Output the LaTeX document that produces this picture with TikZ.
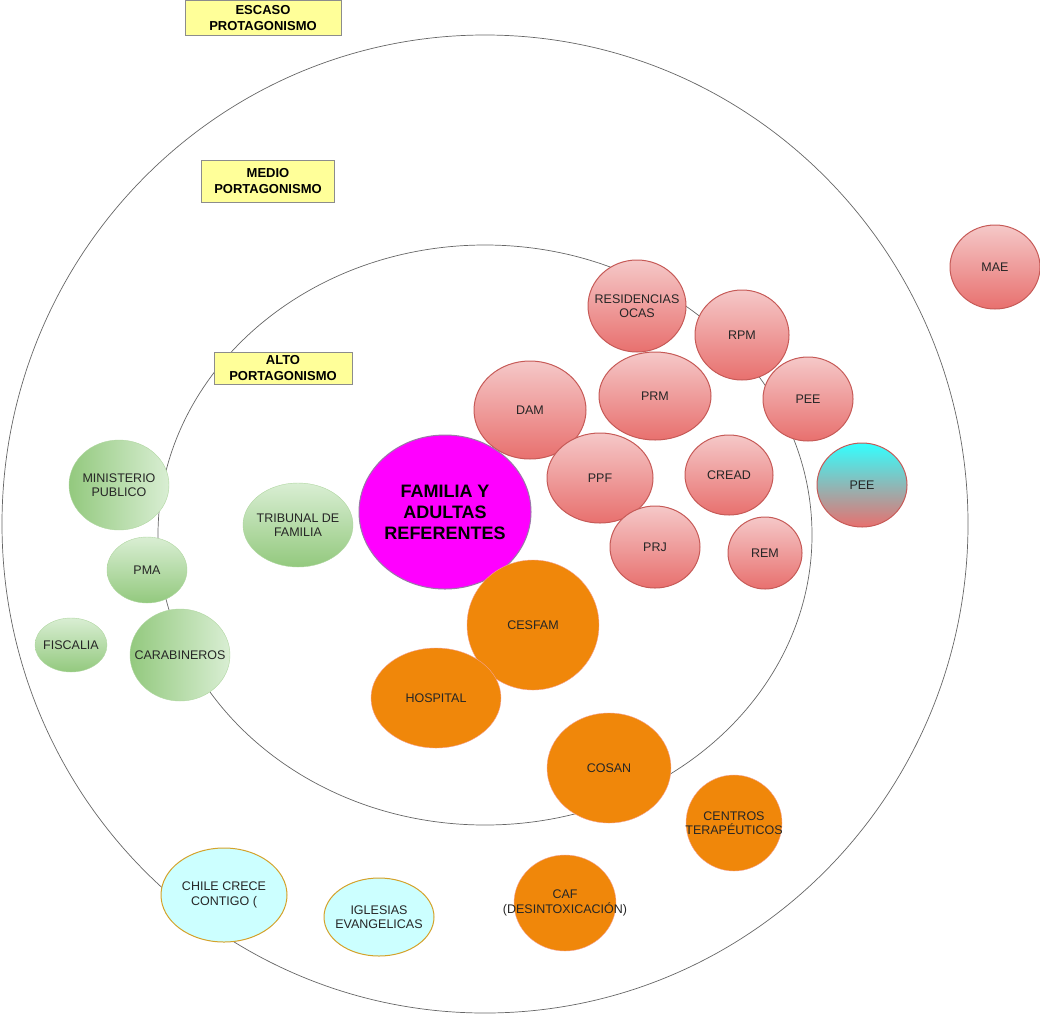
\documentclass[tikz,border=0pt]{standalone}
\usepackage{fontspec}
\setmainfont{Liberation Sans}
\usetikzlibrary{shapes.geometric}

\definecolor{redtop}{HTML}{F5C8C8}
\definecolor{redbot}{HTML}{E8706E}
\definecolor{redline}{HTML}{C65A57}
\definecolor{greendark}{HTML}{93C97E}
\definecolor{greenlight}{HTML}{D9EED3}
\definecolor{greenline}{HTML}{AFD6A0}
\definecolor{orangefill}{HTML}{F0870A}
\definecolor{orangeline}{HTML}{F4A39A}
\definecolor{cyanfill}{HTML}{CCFFFF}
\definecolor{cyanline}{HTML}{D4A22A}
\definecolor{cyantop}{HTML}{33FFFF}
\definecolor{labelfill}{HTML}{FFFF99}
\definecolor{familyfill}{HTML}{FF00FF}
\definecolor{familyline}{HTML}{9A78A8}

\tikzset{
  ring/.style={draw=black!60, line width=0.7pt},
  levelbox/.style={draw=black!45, fill=labelfill, align=center, inner sep=0pt,
    font=\bfseries\fontsize{13}{15.5}\selectfont},
  dims/.style 2 args={minimum width=#1, minimum height=#2},
  bubble/.style={ellipse, inner sep=-40pt, align=center, text=black!85,
    font=\fontsize{12.5}{14.5}\selectfont},
  redbubble/.style={bubble, draw=redline, line width=1pt, top color=redtop, bottom color=redbot},
  greenh/.style={bubble, draw=greenline, left color=greendark, right color=greenlight},
  greenv/.style={bubble, draw=greenline, top color=greenlight, bottom color=greendark},
  orangebubble/.style={bubble, draw=orangeline, fill=orangefill},
  cyanbubble/.style={bubble, draw=cyanline, line width=1pt, fill=cyanfill}
}

\begin{document}
\begin{tikzpicture}[x=1pt, y=-1pt]
  \useasboundingbox (0,0) rectangle (1040,1015);

  \draw[ring] (485,524) ellipse (483 and 489);
  \draw[ring] (485,535) ellipse (327 and 290);

  \node[levelbox, dims={156pt}{35pt}] (escaso) at (263,18) {ESCASO\\PROTAGONISMO};
  \node[levelbox, dims={133pt}{42pt}] (medio) at (268,181) {MEDIO\\PORTAGONISMO};
  \node[levelbox, dims={138pt}{32pt}] (alto) at (283,368) {ALTO\\PORTAGONISMO};

  \node[redbubble, dims={112pt}{98pt}] (dam) at (530,410) {DAM};
  \node[bubble, draw=familyline, line width=1pt, fill=familyfill, text=black, dims={172pt}{154pt},
    font=\bfseries\fontsize{18}{21}\selectfont] (familia) at (445,512) {FAMILIA Y\\ADULTAS\\REFERENTES};
  \node[redbubble, dims={98pt}{92pt}] (ocas) at (637,306) {RESIDENCIAS\\OCAS};
  \node[redbubble, dims={94pt}{90pt}] (rpm) at (742,335) {RPM};
  \node[redbubble, dims={112pt}{88pt}] (prm) at (655,396) {PRM};
  \node[redbubble, dims={90pt}{84pt}] (pee) at (808,399) {PEE};
  \node[redbubble, dims={106pt}{90pt}] (ppf) at (600,478) {PPF};
  \node[redbubble, dims={90pt}{82pt}] (prj) at (655,547) {PRJ};
  \node[redbubble, dims={88pt}{80pt}] (cread) at (729,475) {CREAD};
  \node[redbubble, dims={74pt}{72pt}] (rem) at (765,553) {REM};
  \node[redbubble, top color=cyantop, dims={90pt}{84pt}] (peecyan) at (862,485) {PEE};
  \node[redbubble, dims={90pt}{84pt}] (mae) at (995,267) {MAE};

  \node[orangebubble, dims={132pt}{130pt}] (cesfam) at (533,625) {CESFAM};
  \node[orangebubble, dims={130pt}{100pt}] (hospital) at (436,698) {HOSPITAL};
  \node[orangebubble, dims={124pt}{110pt}] (cosan) at (609,768) {COSAN};
  \node[orangebubble, dims={96pt}{96pt}] (centros) at (734,823) {CENTROS\\TERAPÉUTICOS};
  \node[orangebubble, dims={102pt}{96pt}] (caf) at (565,903) {CAF\\(DESINTOXICACIÓN)};

  \node[greenh, dims={100pt}{90pt}] (ministerio) at (119,485) {MINISTERIO\\PUBLICO};
  \node[greenv, dims={110pt}{84pt}] (tribunal) at (298,525) {TRIBUNAL DE\\FAMILIA};
  \node[greenv, dims={80pt}{66pt}] (pma) at (147,570) {PMA};
  \node[greenv, dims={72pt}{54pt}] (fiscalia) at (71,645) {FISCALIA};
  \node[greenh, dims={100pt}{92pt}] (carabineros) at (180,655) {CARABINEROS};

  \node[cyanbubble, dims={126pt}{94pt}] (chile) at (224,895) {CHILE CRECE\\CONTIGO (};
  \node[cyanbubble, dims={110pt}{78pt}] (iglesias) at (379,917) {IGLESIAS\\EVANGELICAS};
\end{tikzpicture}
\end{document}
